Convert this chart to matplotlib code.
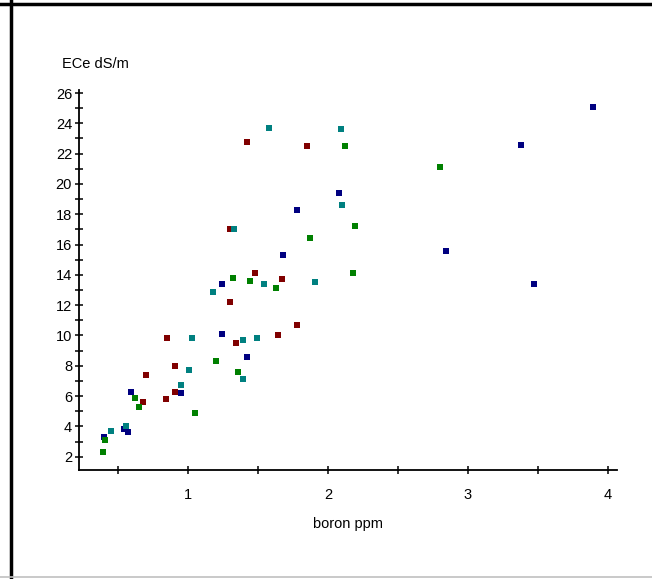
import matplotlib
matplotlib.use("Agg")
import matplotlib.pyplot as plt
from matplotlib.lines import Line2D
from matplotlib.ticker import MultipleLocator

plt.rcParams["font.family"] = ["Liberation Sans", "DejaVu Sans"]

# boron (ppm) vs ECe (dS/m), four groups
navy_x = [0.40, 0.54, 0.57, 0.59, 0.95, 1.24, 1.24, 1.42, 1.68, 1.78, 2.08, 2.84, 3.38, 3.47, 3.89]
navy_y = [3.3, 3.8, 3.6, 6.3, 6.2, 13.4, 10.1, 8.6, 15.3, 18.3, 19.4, 15.6, 22.6, 13.4, 25.1]
red_x = [0.68, 0.70, 0.85, 0.84, 0.91, 0.91, 1.30, 1.34, 1.48, 1.64, 1.67, 1.42, 1.85, 1.30, 1.78]
red_y = [5.6, 7.4, 9.8, 5.8, 8.0, 6.3, 12.2, 9.5, 14.1, 10.0, 13.7, 22.8, 22.5, 17.0, 10.7]
teal_x = [0.45, 0.56, 0.95, 1.01, 1.03, 1.18, 1.39, 1.39, 1.49, 1.54, 1.58, 2.09, 2.10, 1.33, 1.91]
teal_y = [3.7, 4.0, 6.7, 7.7, 9.8, 12.9, 7.1, 9.7, 9.8, 13.4, 23.7, 23.6, 18.6, 17.0, 13.5]
green_x = [0.41, 0.39, 0.62, 0.65, 1.05, 1.20, 1.32, 1.36, 1.44, 1.63, 2.12, 2.19, 1.87, 2.18, 2.80]
green_y = [3.1, 2.3, 5.9, 5.3, 4.9, 8.3, 13.8, 7.6, 13.6, 13.1, 22.5, 17.2, 16.4, 14.1, 21.1]

groups = [(navy_x, navy_y, "#000080"), (red_x, red_y, "#800000"),
          (teal_x, teal_y, "#008080"), (green_x, green_y, "#008000")]

fig = plt.figure(figsize=(6.52, 5.79), dpi=100)
ax = fig.add_axes([79 / 652, 1 - 470 / 579, (617 - 79) / 652, (470 - 90) / 579])

for xs, ys, col in groups:
    ax.scatter(xs, ys, marker="s", s=16, c=col, linewidths=0, zorder=3)

ax.set_xlim(0.222, 4.064)
ax.set_ylim(1.12, 26.2)
ax.xaxis.set_minor_locator(MultipleLocator(0.5))
ax.yaxis.set_minor_locator(MultipleLocator(1))
ax.set_xticks([1, 2, 3, 4])
ax.set_yticks(range(2, 27, 2))
for s in ("top", "right"):
    ax.spines[s].set_visible(False)
for s in ("left", "bottom"):
    ax.spines[s].set_linewidth(1.3)
ax.tick_params(which="both", direction="inout", length=6, width=1.1,
               labelsize=10.5, pad=2)
ax.tick_params(axis="x", which="major", pad=10)
ax.set_xlabel("boron ppm", fontsize=10.5, labelpad=11)
fig.text(62 / 652, 1 - 64 / 579, "ECe dS/m", fontsize=10.5, va="center", ha="left")

# window frame
fig.add_artist(Line2D([10.5 / 652, 10.5 / 652], [0, 1], color="black", lw=2.5,
                      transform=fig.transFigure))
fig.add_artist(Line2D([0, 1], [1 - 3.5 / 579, 1 - 3.5 / 579], color="black", lw=2.5,
                      transform=fig.transFigure))
fig.add_artist(Line2D([0, 1], [1 - 577 / 579, 1 - 577 / 579], color="#c0c0c0", lw=1.2,
                      transform=fig.transFigure))

fig.savefig("out.png", dpi=100)
